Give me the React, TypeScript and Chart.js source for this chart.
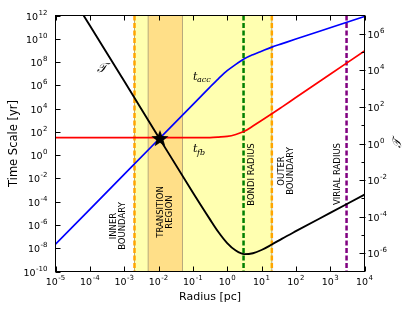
import React, { useEffect, useRef } from "react";
import { Chart, registerables } from "chart.js";

Chart.register(...registerables);

// ---- data ----
const radius = [1e-5, 1e-4, 1e-3, 1e-2, 0.1, 0.316, 0.562, 1, 1.78, 3.16, 5.62, 10, 20, 40, 100, 1000, 10000];
const tAcc = [2.2e-8, 2.2e-5, 0.022, 22, 2.2e4, 7.1e5, 3.8e6, 1.8e7, 6.3e7, 1.9e8, 4.3e8, 8.5e8, 1.9e9, 3.8e9, 9.5e9, 8.9e10, 8.3e11];
const tFb = [31.6, 31.6, 31.6, 31.6, 31.6, 32.4, 35.5, 40.7, 60, 112, 316, 933, 3550, 1.41e4, 8.9e4, 8.9e6, 8.9e8];
const tau = [3.1e9, 2.8e6, 2.6e3, 2.3, 2.1e-3, 7.1e-5, 1.4e-5, 3.6e-6, 1.4e-6, 8.9e-7, 1.0e-6, 1.5e-6, 3.0e-6, 6.3e-6, 1.6e-5, 1.6e-4, 1.6e-3];

const starRadius = [0.011];
const starTime = [30];

const innerBoundary = 2e-3;
const outerBoundary = 20;
const transitionRegion = [5e-3, 5e-2];
const bondiRadius = 3;
const virialRadius = 3000;

const xTickExps = [-5, -4, -3, -2, -1, 0, 1, 2, 3, 4];
const yTickExps = [-10, -8, -6, -4, -2, 0, 2, 4, 6, 8, 10, 12];
const y2TickExps = [-6, -4, -2, 0, 2, 4, 6];
const y2MinorExps = [-5, -3, -1, 1, 3, 5];

const FONT = '"DejaVu Sans"';

function drawPow(ctx: CanvasRenderingContext2D, exp: number, x: number, y: number, align: string) {
  const base = "10";
  const sup = String(exp);
  ctx.font = `9.5px ${FONT}`;
  const wb = ctx.measureText(base).width;
  ctx.font = `7px ${FONT}`;
  const ws = ctx.measureText(sup).width;
  const w = wb + ws + 0.5;
  const x0 = align === "center" ? x - w / 2 : align === "right" ? x - w : x;
  ctx.textAlign = "left";
  ctx.textBaseline = "alphabetic";
  ctx.fillStyle = "#000";
  ctx.font = `9.5px ${FONT}`;
  ctx.fillText(base, x0, y);
  ctx.font = `7px ${FONT}`;
  ctx.fillText(sup, x0 + wb + 0.5, y - 5);
}

function vText(ctx: CanvasRenderingContext2D, lines: string[], cx: number, cy: number, gap: number, align: CanvasTextAlign, font: string) {
  ctx.save();
  ctx.translate(cx, cy);
  ctx.rotate(-Math.PI / 2);
  ctx.font = font;
  ctx.fillStyle = "#000";
  ctx.textAlign = align;
  ctx.textBaseline = "middle";
  const n = lines.length;
  lines.forEach((l, i) => {
    ctx.fillText(l, 0, (i - (n - 1) / 2) * gap);
  });
  ctx.restore();
}

function makeStar(size: number) {
  const c = document.createElement("canvas");
  c.width = size;
  c.height = size;
  const g = c.getContext("2d")!;
  const R = size / 2;
  const r = R * 0.42;
  g.beginPath();
  for (let i = 0; i < 10; i++) {
    const rad = i % 2 === 0 ? R : r;
    const a = -Math.PI / 2 + (i * Math.PI) / 5;
    const px = R + rad * Math.cos(a);
    const py = R + 1 + rad * Math.sin(a);
    if (i === 0) g.moveTo(px, py);
    else g.lineTo(px, py);
  }
  g.closePath();
  g.fillStyle = "#000";
  g.fill();
  return c;
}

const decor = {
  id: "decor",
  beforeDatasetsDraw(chart: any) {
    const { ctx, chartArea: a, scales } = chart;
    const x = scales.x;
    const h = a.bottom - a.top;
    ctx.save();
    const xi = x.getPixelForValue(innerBoundary);
    const xo = x.getPixelForValue(outerBoundary);
    ctx.fillStyle = "#FFFFB0";
    ctx.fillRect(xi, a.top, xo - xi, h);
    const t0 = x.getPixelForValue(transitionRegion[0]);
    const t1 = x.getPixelForValue(transitionRegion[1]);
    ctx.fillStyle = "#FFDF88";
    ctx.fillRect(t0, a.top, t1 - t0, h);
    ctx.strokeStyle = "#B8A97C";
    ctx.lineWidth = 1;
    [xi, xo, t0, t1].forEach((px) => {
      ctx.beginPath();
      ctx.moveTo(px, a.top);
      ctx.lineTo(px, a.bottom);
      ctx.stroke();
    });
    const dashed = (v: number, color: string) => {
      const px = x.getPixelForValue(v);
      ctx.save();
      ctx.strokeStyle = color;
      ctx.lineWidth = 2.5;
      ctx.setLineDash([5, 2.5]);
      ctx.beginPath();
      ctx.moveTo(px, a.top);
      ctx.lineTo(px, a.bottom);
      ctx.stroke();
      ctx.restore();
    };
    dashed(innerBoundary, "#FFA500");
    dashed(outerBoundary, "#FFA500");
    dashed(bondiRadius, "#008000");
    dashed(virialRadius, "#800080");

    const f = `8.5px ${FONT}`;
    vText(ctx, ["INNER", "BOUNDARY"], 118.5, 226, 9, "center", f);
    vText(ctx, ["TRANSITION", "REGION"], 165, 212, 9, "center", f);
    vText(ctx, ["BONDI RADIUS"], 251.7, 174.5, 9, "center", f);
    vText(ctx, ["OUTER", "BOUNDARY"], 286.5, 171, 9, "center", f);
    vText(ctx, ["VIRIAL RADIUS"], 337.3, 174, 9, "center", f);
    ctx.restore();
  },
  afterDraw(chart: any) {
    const { ctx, chartArea: a, scales } = chart;
    const x = scales.x, y = scales.y, y2 = scales.y2;
    ctx.save();
    ctx.strokeStyle = "#000";
    ctx.lineWidth = 1;
    ctx.strokeRect(a.left, a.top, a.right - a.left, a.bottom - a.top);
    ctx.beginPath();
    xTickExps.forEach((e) => {
      const px = Math.round(x.getPixelForValue(Math.pow(10, e))) + 0.5;
      ctx.moveTo(px, a.bottom);
      ctx.lineTo(px, a.bottom - 5);
      ctx.moveTo(px, a.top);
      ctx.lineTo(px, a.top + 5);
    });
    yTickExps.forEach((e) => {
      const py = Math.round(y.getPixelForValue(Math.pow(10, e))) + 0.5;
      ctx.moveTo(a.left, py);
      ctx.lineTo(a.left + 5, py);
    });
    y2TickExps.forEach((e) => {
      const py = Math.round(y2.getPixelForValue(Math.pow(10, e))) + 0.5;
      ctx.moveTo(a.right - 5, py);
      ctx.lineTo(a.right + 1, py);
    });
    y2MinorExps.forEach((e) => {
      const py = Math.round(y2.getPixelForValue(Math.pow(10, e))) + 0.5;
      ctx.moveTo(a.right - 3, py);
      ctx.lineTo(a.right, py);
    });
    ctx.stroke();

    xTickExps.forEach((e) => {
      drawPow(ctx, e, x.getPixelForValue(Math.pow(10, e)), a.bottom + 13.5, "center");
    });
    yTickExps.forEach((e) => {
      drawPow(ctx, e, a.left - 8, y.getPixelForValue(Math.pow(10, e)) + 4, "right");
    });
    y2TickExps.forEach((e) => {
      drawPow(ctx, e, a.right + 3, y2.getPixelForValue(Math.pow(10, e)) + 4, "left");
    });

    // axis titles
    ctx.fillStyle = "#000";
    ctx.font = `11px ${FONT}`;
    ctx.textAlign = "center";
    ctx.textBaseline = "alphabetic";
    ctx.fillText("Radius [pc]", (a.left + a.right) / 2, a.bottom + 28);
    vText(ctx, ["Time Scale [yr]"], 14, (a.top + a.bottom) / 2, 0, "center", `11.5px ${FONT}`);
    vText(ctx, ["\u{1D4AF}"], 398, (a.top + a.bottom) / 2, 0, "center", `italic 12px "DejaVu Serif"`);

    // curve labels
    ctx.textAlign = "left";
    ctx.font = `italic 13px "DejaVu Serif"`;
    ctx.fillText("\u{1D4AF}", 97, 72);
    ctx.font = `italic 11px "DejaVu Serif"`;
    ctx.fillText("t", 193, 79.5);
    ctx.fillText("t", 193, 151.5);
    ctx.font = `italic 8px "DejaVu Serif"`;
    ctx.fillText("acc", 197, 82);
    ctx.fillText("fb", 197, 154.5);
    ctx.restore();
  },
};

export default function App() {
  const ref = useRef<HTMLCanvasElement>(null);
  useEffect(() => {
    const star = makeStar(18);
    const pts = (ys: number[]) => radius.map((r, i) => ({ x: r, y: ys[i] }));
    const chart = new Chart(ref.current!, {
      type: "line",
      data: {
        datasets: [
          {
            type: "scatter",
            data: starRadius.map((r, i) => ({ x: r, y: starTime[i] })),
            pointStyle: star as any,
            pointRadius: 9,
            yAxisID: "y",
          } as any,
          {
            data: pts(tau),
            borderColor: "#000000",
            borderWidth: 1.9,
            pointRadius: 0,
            cubicInterpolationMode: "monotone",
            yAxisID: "y2",
          },
          {
            data: pts(tAcc),
            borderColor: "#0000FF",
            borderWidth: 1.7,
            pointRadius: 0,
            cubicInterpolationMode: "monotone",
            yAxisID: "y",
          },
          {
            data: pts(tFb),
            borderColor: "#FF0000",
            borderWidth: 1.7,
            pointRadius: 0,
            cubicInterpolationMode: "monotone",
            yAxisID: "y",
          },
        ],
      },
      options: {
        animation: false,
        responsive: false,
        devicePixelRatio: 1,
        layout: { padding: { left: 55.5, right: 50.5, top: 15.5, bottom: 40.5 } },
        plugins: { legend: { display: false }, tooltip: { enabled: false } },
        events: [],
        scales: {
          x: { type: "logarithmic", min: 1e-5, max: 1e4, display: false },
          y: { type: "logarithmic", min: 1e-10, max: 1e12, display: false },
          y2: { type: "logarithmic", min: 1e-7, max: 1e7, display: false, position: "right" },
        },
      },
      plugins: [decor],
    });
    return () => chart.destroy();
  }, []);
  return (
    <div style={{ position: "fixed", left: 0, top: 0, width: 415, height: 312, background: "#fff" }}>
      <canvas ref={ref} width={415} height={312} />
    </div>
  );
}
